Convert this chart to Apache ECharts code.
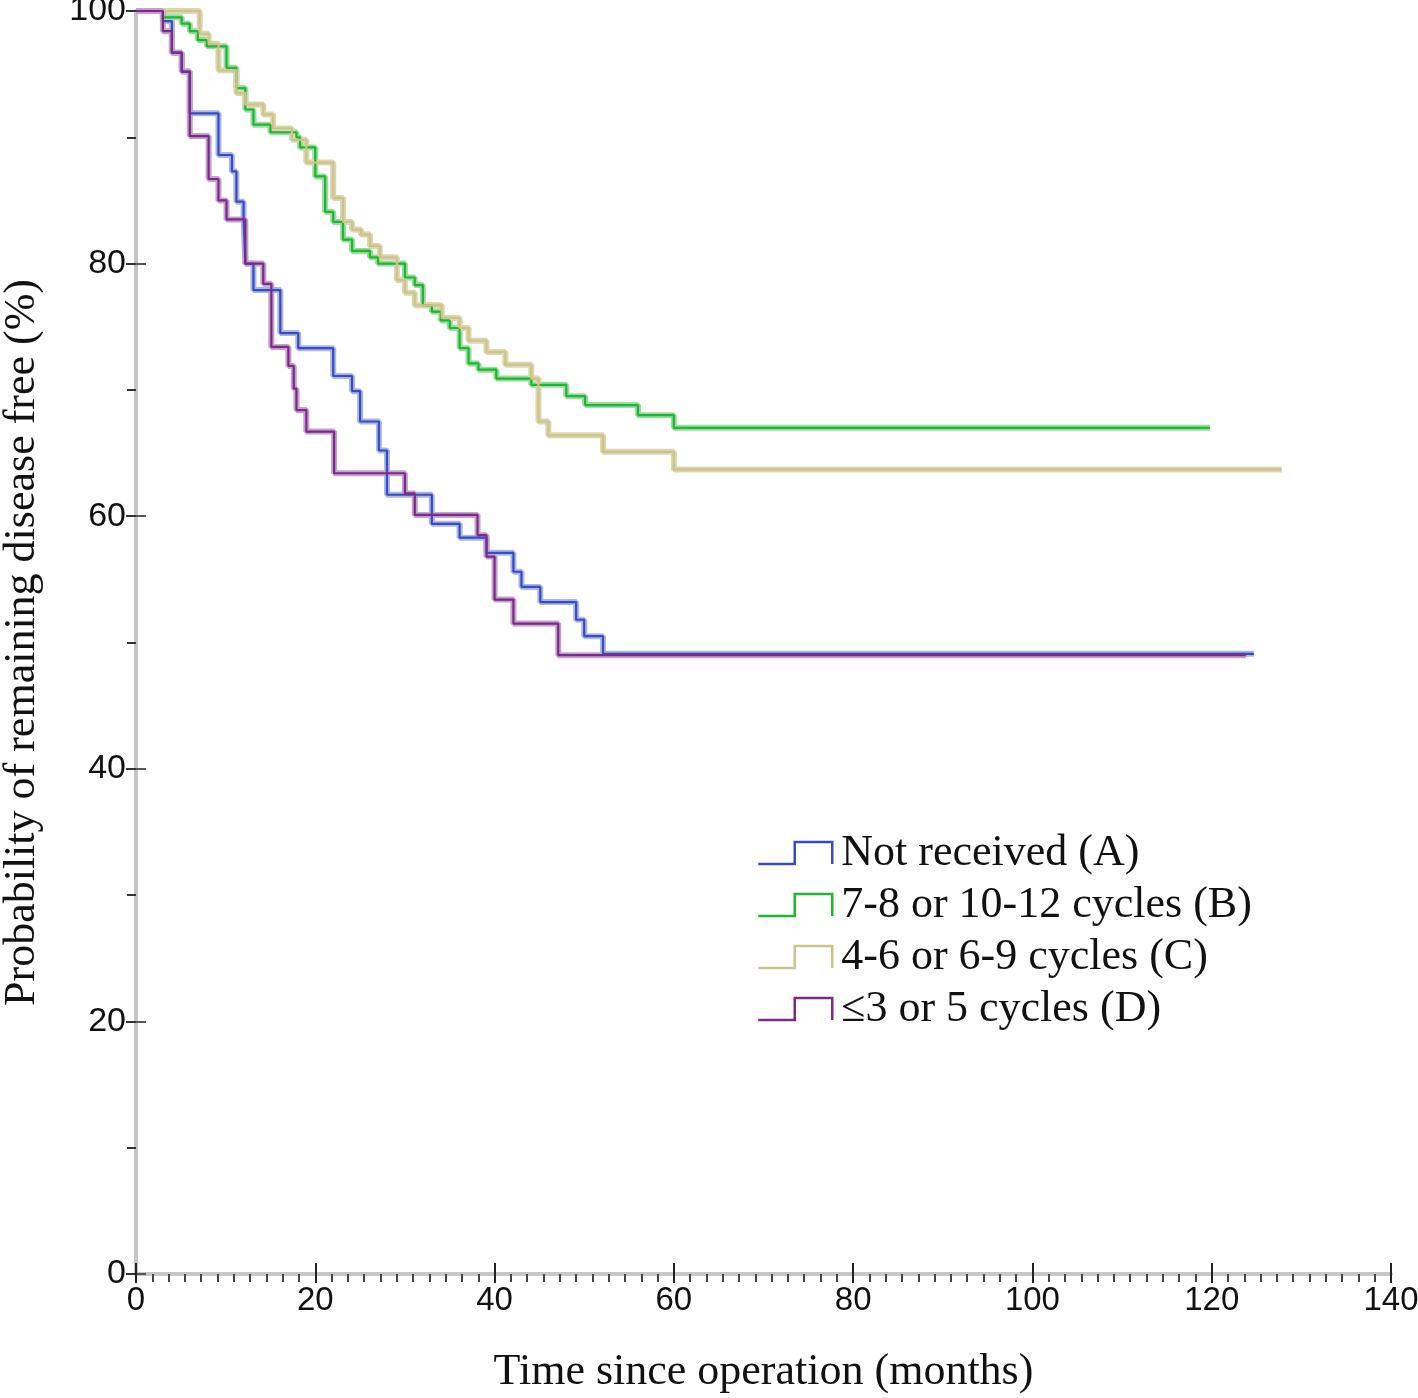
<!DOCTYPE html>
<html>
<head>
<meta charset="utf-8">
<script src="https://cdn.jsdelivr.net/npm/echarts@6/dist/echarts.min.js"></script>
<style>
  html, body { margin: 0; padding: 0; background: #fff; }
  #chart { width: 1418px; height: 1398px; }
</style>
</head>
<body>
<div id="chart"></div>
<script>
// group names (legend)
const groupNames = ['Not received (A)', '7-8 or 10-12 cycles (B)', '4-6 or 6-9 cycles (C)', '\u22643 or 5 cycles (D)'];

// axis ticks
const xTicks = [0, 20, 40, 60, 80, 100, 120, 140];
const yTicks = [0, 20, 40, 60, 80, 100];

// Kaplan-Meier steps: time (months) / survival (%)
const timeA = [0, 3.0, 4.0, 5.1, 6.0, 9.2, 10.7, 11.2, 12.0, 12.2, 13.1, 16.1, 18.1, 22.0, 24.1, 25.0, 27.1, 28.0, 33.0, 36.1, 39.1, 42.1, 43.0, 45.1, 49.1, 50.0, 52.1, 124.7];
const survA = [100, 99.2, 96.7, 95.2, 91.9, 88.6, 87.3, 84.9, 83.7, 80.0, 77.9, 74.5, 73.3, 71.1, 69.9, 67.5, 65.2, 61.7, 59.4, 58.3, 57.1, 55.6, 54.4, 53.2, 51.8, 50.5, 49.1, 49.1];

const timeB = [0, 3.0, 5.1, 6.0, 6.9, 7.9, 10.1, 11.2, 12.2, 13.1, 15.0, 17.9, 18.3, 20.0, 21.1, 22.0, 23.1, 24.1, 26.1, 27.0, 30.0, 31.1, 32.0, 33.0, 34.0, 35.0, 36.1, 37.1, 38.2, 40.2, 44.1, 48.0, 50.1, 56.0, 60.0, 119.8];
const survB = [100, 99.5, 99.0, 98.4, 97.7, 97.2, 95.5, 93.9, 92.2, 91.0, 90.4, 90.0, 89.2, 86.9, 84.1, 83.3, 81.9, 81.0, 80.5, 80.0, 78.9, 78.3, 76.7, 76.2, 75.5, 74.9, 73.3, 72.1, 71.6, 70.9, 70.4, 69.5, 68.8, 68.0, 67.0, 67.0];

const timeC = [0, 7.1, 8.1, 9.2, 11.2, 12.2, 14.2, 15.3, 17.4, 19.0, 22.0, 23.1, 24.1, 25.1, 26.1, 27.2, 29.1, 30.0, 31.1, 34.1, 36.1, 37.1, 39.1, 41.2, 44.1, 44.9, 46.0, 52.1, 60.0, 127.8];
const survC = [100, 98.2, 97.4, 95.3, 93.5, 92.6, 91.8, 90.7, 89.8, 88.0, 85.2, 83.3, 82.7, 82.3, 81.4, 80.5, 78.7, 77.7, 76.7, 75.7, 74.9, 73.9, 73.0, 72.0, 70.9, 67.5, 66.4, 65.1, 63.7, 63.7];

const timeD = [0, 3.0, 4.0, 5.1, 6.0, 8.1, 9.2, 10.1, 12.2, 14.2, 15.1, 17.0, 17.6, 17.9, 19.0, 22.1, 30.0, 31.1, 38.1, 39.1, 40.0, 42.1, 47.1, 123.8];
const survD = [100, 98.4, 96.7, 95.2, 90.1, 86.7, 85.0, 83.5, 80.0, 78.4, 73.4, 71.9, 70.1, 68.4, 66.7, 63.4, 61.8, 60.1, 58.5, 56.8, 53.4, 51.5, 49.0, 49.0];

const coreColors = ['#3a4bbf', '#22b533', '#cbc38e', '#7b2a86'];
const haloColors = ['#aab6e6', '#97dd9f', '#dcd6ac', '#c4a0cc'];

const pairs = (t, s) => t.map((v, i) => [v, s[i]]);
const groups = [pairs(timeA, survA), pairs(timeB, survB), pairs(timeC, survC), pairs(timeD, survD)];

// step shaped legend icon like the original
const stepIcon = 'path://M0,66 L105,66 L105,0 L213,0 L213,66';

const series = [];
groups.forEach((d, i) => {
  series.push({
    name: groupNames[i] + ' halo',
    type: 'line',
    step: 'end',
    data: d,
    symbol: 'none',
    silent: true,
    lineStyle: { color: haloColors[i], width: 6 },
    itemStyle: { color: haloColors[i] },
    z: 2
  });
});
groups.forEach((d, i) => {
  series.push({
    name: groupNames[i],
    type: 'line',
    step: 'end',
    data: d,
    symbol: 'none',
    lineStyle: { color: coreColors[i], width: 2.2 },
    itemStyle: { color: coreColors[i] },
    z: 3
  });
});

const chart = echarts.init(document.getElementById('chart'));
chart.setOption({
  animation: false,
  grid: { left: 136, right: 27, top: 11, bottom: 124, containLabel: false, outerBoundsMode: 'none' },
  legend: {
    left: 752,
    top: 826,
    orient: 'vertical',
    itemWidth: 74,
    itemHeight: 22,
    itemGap: 8,
    symbolKeepAspect: false,
    data: groupNames.map((n, i) => ({
      name: n,
      icon: stepIcon,
      itemStyle: { color: 'rgba(0,0,0,0)', borderColor: coreColors[i], borderWidth: 2.5 }
    })),
    textStyle: {
      fontFamily: 'Liberation Serif',
      fontSize: 44,
      color: '#111',
      lineHeight: 43,
      padding: [0, 0, 0, 4]
    }
  },
  xAxis: [
    {
      type: 'value',
      min: xTicks[0],
      max: xTicks[xTicks.length - 1],
      interval: 20,
      name: 'Time since operation (months)',
      nameLocation: 'middle',
      nameGap: 76,
      nameTextStyle: { fontFamily: 'Liberation Serif', fontSize: 44, color: '#111' },
      axisLine: { show: true, onZero: false, lineStyle: { color: '#c6c6c6', width: 4 } },
      axisTick: { show: true, length: 9, lineStyle: { color: '#222', width: 2 } },
      minorTick: { show: true, splitNumber: 11, length: 8, lineStyle: { color: '#444', width: 2 } },
      axisLabel: { margin: 10, fontFamily: 'Liberation Sans', fontSize: 33, color: '#111' },
      splitLine: { show: false }
    },
    {
      type: 'value',
      position: 'bottom',
      min: xTicks[0],
      max: xTicks[xTicks.length - 1],
      interval: 20,
      axisLine: { show: false, onZero: false },
      axisTick: { show: true, inside: true, length: 11, lineStyle: { color: '#222', width: 2 } },
      axisLabel: { show: false },
      splitLine: { show: false }
    }
  ],
  yAxis: [
    {
      type: 'value',
      min: yTicks[0],
      max: yTicks[yTicks.length - 1],
      interval: 20,
      name: 'Probability of remaining disease free (%)',
      nameLocation: 'middle',
      nameGap: 92,
      nameTextStyle: { fontFamily: 'Liberation Serif', fontSize: 44, color: '#111' },
      axisLine: { show: true, onZero: false, lineStyle: { color: '#c6c6c6', width: 4 } },
      axisTick: { show: true, length: 10, lineStyle: { color: '#333', width: 2 } },
      minorTick: { show: true, splitNumber: 2, length: 9, lineStyle: { color: '#333', width: 2 } },
      axisLabel: { margin: 10, fontFamily: 'Liberation Sans', fontSize: 34, color: '#111' },
      splitLine: { show: false }
    },
    {
      type: 'value',
      position: 'left',
      min: yTicks[0],
      max: yTicks[yTicks.length - 1],
      interval: 20,
      axisLine: { show: false, onZero: false },
      axisTick: { show: true, inside: true, length: 10, lineStyle: { color: '#555', width: 2 } },
      axisLabel: { show: false },
      splitLine: { show: false }
    }
  ],
  series: series
});
</script>
</body>
</html>
